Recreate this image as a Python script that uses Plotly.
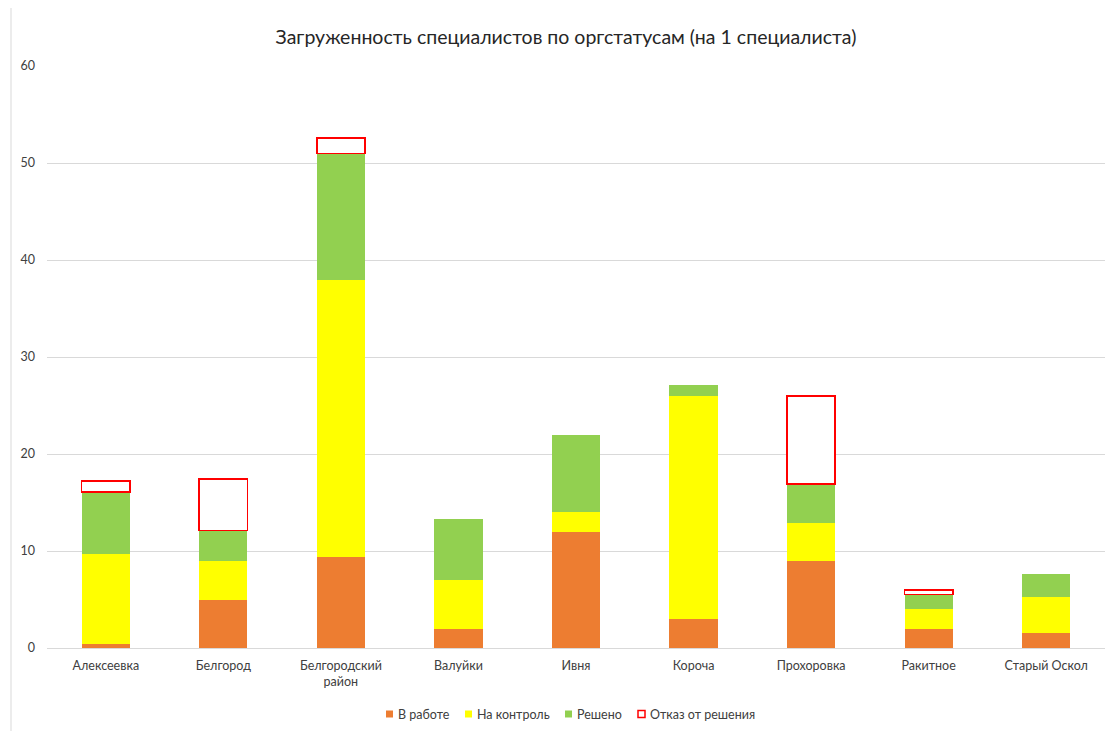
import plotly.graph_objects as go

# districts (x axis)
districts = ['Алексеевка', 'Белгород', 'Белгородский<br>район', 'Валуйки', 'Ивня',
             'Короча', 'Прохоровка', 'Ракитное', 'Старый Оскол']

# load per specialist, by status
in_work = [0.4, 5.0, 9.4, 2.0, 12.0, 3.0, 9.0, 2.0, 1.5]
on_control = [9.3, 4.0, 28.5, 5.0, 2.0, 23.0, 3.9, 2.0, 3.8]
solved = [6.4, 3.1, 13.1, 6.3, 8.0, 1.1, 4.0, 1.5, 2.3]
refused = [1.1, 5.3, 1.6, None, None, None, 9.1, 0.5, None]

series_names = ['В работе', 'На контроль', 'Решено', 'Отказ от решения']

font_family = 'Lato, "Open Sans", sans-serif'

# figure size / margins (page has an 8px body margin, so compensate)
W, H = 1106, 723
ML, MR, MT, MB = 39, 9, 58, 83
plot_w = W - ML - MR
plot_h = H - MT - MB


def fx(px):
    # page pixel x -> paper x
    return (px - 8 - ML) / plot_w


def fy(py):
    # page pixel y -> paper y
    return (H - MB - (py - 8)) / plot_h


fig = go.Figure()

fig.add_trace(go.Bar(x=districts, y=in_work, name=series_names[0],
                     marker=dict(color='#ed7d31', line=dict(width=0))))
fig.add_trace(go.Bar(x=districts, y=on_control, name=series_names[1],
                     marker=dict(color='#ffff00', line=dict(width=0))))
fig.add_trace(go.Bar(x=districts, y=solved, name=series_names[2],
                     marker=dict(color='#92d050', line=dict(width=0))))
fig.add_trace(go.Bar(x=districts, y=refused, name=series_names[3],
                     marker=dict(color='white', line=dict(color='#ff0000', width=1.5))))

# legend drawn by hand to get the compact Excel look
legend_items = [
    (386, dict(color='#ed7d31', line=dict(width=0))),
    (465, dict(color='#ffff00', line=dict(width=0))),
    (565, dict(color='#92d050', line=dict(width=0))),
    (638, dict(color='white', line=dict(color='#ff0000', width=1.5))),
]
for name, (x0, style) in zip(series_names, legend_items):
    fig.add_shape(type='rect', xref='paper', yref='paper',
                  x0=fx(x0), x1=fx(x0 + 7), y0=fy(717.5), y1=fy(710.5),
                  fillcolor=style['color'], line=style['line'])
    fig.add_annotation(text=name, xref='paper', yref='paper', x=fx(x0 + 10), y=fy(714),
                       xanchor='left', yanchor='middle', showarrow=False,
                       font=dict(size=12.5, color='#404040'))

# left border of the chart frame
fig.add_shape(type='line', xref='paper', yref='paper', x0=fx(11), x1=fx(11),
              y0=fy(0), y1=fy(731), line=dict(color='#d9d9d9', width=1))

fig.update_layout(
    barmode='stack',
    bargap=0.59,
    width=W,
    height=H,
    paper_bgcolor='white',
    plot_bgcolor='white',
    margin=dict(l=ML, r=MR, t=MT, b=MB),
    font=dict(family=font_family, size=12.5, color='#404040'),
    title=dict(text='Загруженность специалистов по оргстатусам (на 1 специалиста)',
               xref='paper', x=fx(566), xanchor='center', y=1 - 29 / H, yanchor='middle',
               font=dict(family=font_family, size=19.5, color='#262626')),
    showlegend=False,
)

fig.update_xaxes(showgrid=False, showline=True, linecolor='#d9d9d9', linewidth=1,
                 ticks='', ticklabelstandoff=6, tickfont=dict(size=12.5, color='#404040'))
fig.update_yaxes(range=[0, 60], dtick=10, showgrid=True, gridcolor='#d9d9d9', gridwidth=1,
                 zeroline=False, showline=False, ticks='', ticklabelstandoff=11,
                 tickfont=dict(size=12.5, color='#404040'))

fig.write_html('out.html')
